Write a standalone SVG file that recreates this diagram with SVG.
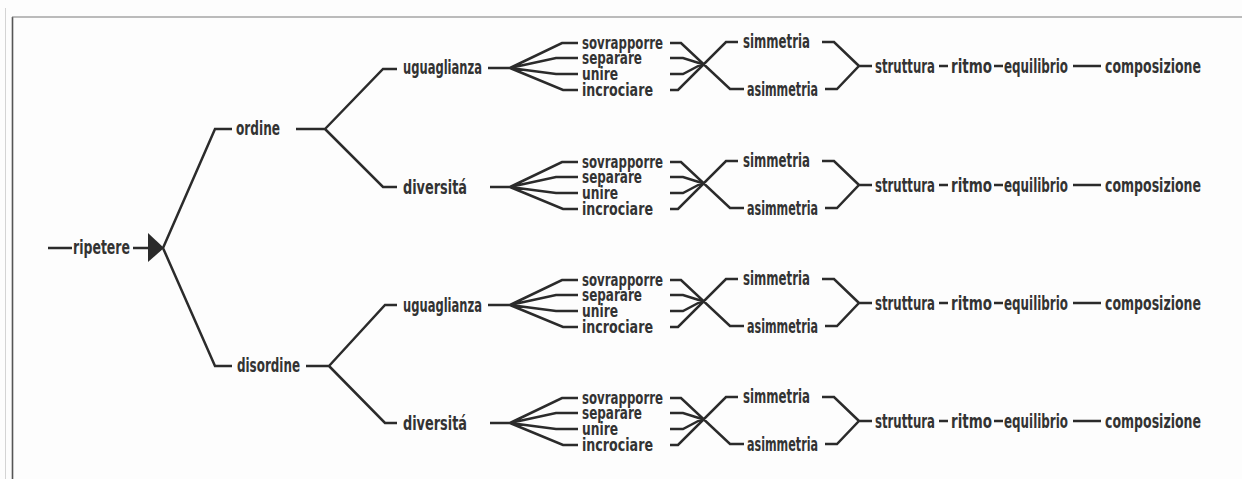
<svg xmlns="http://www.w3.org/2000/svg" width="1242" height="479" viewBox="0 0 1242 479">
<style>
.t{font-family:"Liberation Sans Narrow","DejaVu Sans Condensed","Liberation Sans",sans-serif;font-weight:bold;font-size:20px;fill:#333}
.s{font-size:17.5px}
.c{stroke:#2b2b2b;stroke-width:2.5;fill:none;stroke-linejoin:miter;stroke-linecap:butt}
.f{stroke:#555;fill:none}
</style>
<rect width="1242" height="479" fill="#fdfdfd"/>
<g id="frame">
<line class="f" x1="5.5" y1="8" x2="5.5" y2="479" stroke-width="1" style="stroke:#d4d4d4"/>
<line class="f" x1="12.5" y1="17" x2="12.5" y2="479" stroke-width="1.6"/>
<line class="f" x1="12" y1="17" x2="1242" y2="17" stroke-width="1.2" style="stroke:#7a7a7a"/>
</g>
<g id="connectors">
<path class="c" d="M48,248H72 M133,248H150 M163,248L215,129H232 M163,248L215,366H232 M296,129H325 M325,129L383,69H397 M325,129L383,187H397 M306,366H329 M329,366L385,305H397 M329,366L385,423H397"/>
<polygon points="148,233 148,262 164,248" fill="#2b2b2b"/>
<path class="c" d="M488,68H510 M510,68L562,43H578 M510,68L556,58H578 M510,68L556,74H578 M510,68L563,90H578 M670,43H681L730,89H744 M670,90H678L726,42H738 M670,58H683L702,64 M670,74H683L702,64 M822,42H834L859,66 M825,89H837L859,66H872 M939,66H948 M994,66H1003 M1073,66H1101"/>
<path class="c" d="M490,187H510 M510,187L562,162H578 M510,187L556,177H578 M510,187L556,193H578 M510,187L563,209H578 M670,162H681L730,208H744 M670,209H678L726,161H738 M670,177H683L702,183 M670,193H683L702,183 M822,161H834L859,185 M825,208H837L859,185H872 M939,185H948 M994,185H1003 M1073,185H1101"/>
<path class="c" d="M488,305H510 M510,305L562,280H578 M510,305L556,295H578 M510,305L556,311H578 M510,305L563,327H578 M670,280H681L730,326H744 M670,327H678L726,279H738 M670,295H683L702,301 M670,311H683L702,301 M822,279H834L859,303 M825,326H837L859,303H872 M939,303H948 M994,303H1003 M1073,303H1101"/>
<path class="c" d="M490,423H510 M510,423L562,398H578 M510,423L556,413H578 M510,423L556,429H578 M510,423L563,445H578 M670,398H681L730,444H744 M670,445H678L726,397H738 M670,413H683L702,419 M670,429H683L702,419 M822,397H834L859,421 M825,444H837L859,421H872 M939,421H948 M994,421H1003 M1073,421H1101"/>
</g>
<g id="n-ripetere"><text class="t" transform="translate(73,254) scale(.68,1)" textLength="83.8" lengthAdjust="spacingAndGlyphs">ripetere</text></g>
<g id="n-ordine"><text class="t" transform="translate(236,135) scale(.68,1)" textLength="64.7" lengthAdjust="spacingAndGlyphs">ordine</text></g>
<g id="n-disordine"><text class="t" transform="translate(237,372) scale(.68,1)" textLength="92.6" lengthAdjust="spacingAndGlyphs">disordine</text></g>

<g id="b1-uguaglianza"><text class="t" transform="translate(403,74) scale(.68,1)" textLength="116.2" lengthAdjust="spacingAndGlyphs">uguaglianza</text></g>
<g id="b1-sovrapporre"><text class="t s" transform="translate(582,49) scale(.68,1)" textLength="119.1" lengthAdjust="spacingAndGlyphs">sovrapporre</text></g>
<g id="b1-separare"><text class="t s" transform="translate(582,64) scale(.68,1)" textLength="88.2" lengthAdjust="spacingAndGlyphs">separare</text></g>
<g id="b1-unire"><text class="t s" transform="translate(582,80) scale(.68,1)" textLength="52.9" lengthAdjust="spacingAndGlyphs">unire</text></g>
<g id="b1-incrociare"><text class="t s" transform="translate(582,96) scale(.68,1)" textLength="104.4" lengthAdjust="spacingAndGlyphs">incrociare</text></g>
<g id="b1-simmetria"><text class="t" transform="translate(743,48) scale(.68,1)" textLength="98.5" lengthAdjust="spacingAndGlyphs">simmetria</text></g>
<g id="b1-asimmetria"><text class="t" transform="translate(747,96) scale(.68,1)" textLength="104.4" lengthAdjust="spacingAndGlyphs">asimmetria</text></g>
<g id="b1-struttura"><text class="t" transform="translate(875,73) scale(.68,1)" textLength="88.2" lengthAdjust="spacingAndGlyphs">struttura</text></g>
<g id="b1-ritmo"><text class="t" transform="translate(951,73) scale(.68,1)" textLength="60.3" lengthAdjust="spacingAndGlyphs">ritmo</text></g>
<g id="b1-equilibrio"><text class="t" transform="translate(1004,73) scale(.68,1)" textLength="94.1" lengthAdjust="spacingAndGlyphs">equilibrio</text></g>
<g id="b1-composizione"><text class="t" transform="translate(1105,73) scale(.68,1)" textLength="141.2" lengthAdjust="spacingAndGlyphs">composizione</text></g>

<g id="b2-diversita"><text class="t" transform="translate(403,194) scale(.68,1)" textLength="94.1" lengthAdjust="spacingAndGlyphs">diversitá</text></g>
<g id="b2-sovrapporre"><text class="t s" transform="translate(582,168) scale(.68,1)" textLength="119.1" lengthAdjust="spacingAndGlyphs">sovrapporre</text></g>
<g id="b2-separare"><text class="t s" transform="translate(582,183) scale(.68,1)" textLength="88.2" lengthAdjust="spacingAndGlyphs">separare</text></g>
<g id="b2-unire"><text class="t s" transform="translate(582,199) scale(.68,1)" textLength="52.9" lengthAdjust="spacingAndGlyphs">unire</text></g>
<g id="b2-incrociare"><text class="t s" transform="translate(582,215) scale(.68,1)" textLength="104.4" lengthAdjust="spacingAndGlyphs">incrociare</text></g>
<g id="b2-simmetria"><text class="t" transform="translate(743,167) scale(.68,1)" textLength="98.5" lengthAdjust="spacingAndGlyphs">simmetria</text></g>
<g id="b2-asimmetria"><text class="t" transform="translate(747,215) scale(.68,1)" textLength="104.4" lengthAdjust="spacingAndGlyphs">asimmetria</text></g>
<g id="b2-struttura"><text class="t" transform="translate(875,192) scale(.68,1)" textLength="88.2" lengthAdjust="spacingAndGlyphs">struttura</text></g>
<g id="b2-ritmo"><text class="t" transform="translate(951,192) scale(.68,1)" textLength="60.3" lengthAdjust="spacingAndGlyphs">ritmo</text></g>
<g id="b2-equilibrio"><text class="t" transform="translate(1004,192) scale(.68,1)" textLength="94.1" lengthAdjust="spacingAndGlyphs">equilibrio</text></g>
<g id="b2-composizione"><text class="t" transform="translate(1105,192) scale(.68,1)" textLength="141.2" lengthAdjust="spacingAndGlyphs">composizione</text></g>

<g id="b3-uguaglianza"><text class="t" transform="translate(403,312) scale(.68,1)" textLength="116.2" lengthAdjust="spacingAndGlyphs">uguaglianza</text></g>
<g id="b3-sovrapporre"><text class="t s" transform="translate(582,286) scale(.68,1)" textLength="119.1" lengthAdjust="spacingAndGlyphs">sovrapporre</text></g>
<g id="b3-separare"><text class="t s" transform="translate(582,301) scale(.68,1)" textLength="88.2" lengthAdjust="spacingAndGlyphs">separare</text></g>
<g id="b3-unire"><text class="t s" transform="translate(582,317) scale(.68,1)" textLength="52.9" lengthAdjust="spacingAndGlyphs">unire</text></g>
<g id="b3-incrociare"><text class="t s" transform="translate(582,333) scale(.68,1)" textLength="104.4" lengthAdjust="spacingAndGlyphs">incrociare</text></g>
<g id="b3-simmetria"><text class="t" transform="translate(743,285) scale(.68,1)" textLength="98.5" lengthAdjust="spacingAndGlyphs">simmetria</text></g>
<g id="b3-asimmetria"><text class="t" transform="translate(747,333) scale(.68,1)" textLength="104.4" lengthAdjust="spacingAndGlyphs">asimmetria</text></g>
<g id="b3-struttura"><text class="t" transform="translate(875,310) scale(.68,1)" textLength="88.2" lengthAdjust="spacingAndGlyphs">struttura</text></g>
<g id="b3-ritmo"><text class="t" transform="translate(951,310) scale(.68,1)" textLength="60.3" lengthAdjust="spacingAndGlyphs">ritmo</text></g>
<g id="b3-equilibrio"><text class="t" transform="translate(1004,310) scale(.68,1)" textLength="94.1" lengthAdjust="spacingAndGlyphs">equilibrio</text></g>
<g id="b3-composizione"><text class="t" transform="translate(1105,310) scale(.68,1)" textLength="141.2" lengthAdjust="spacingAndGlyphs">composizione</text></g>

<g id="b4-diversita"><text class="t" transform="translate(403,430) scale(.68,1)" textLength="94.1" lengthAdjust="spacingAndGlyphs">diversitá</text></g>
<g id="b4-sovrapporre"><text class="t s" transform="translate(582,404) scale(.68,1)" textLength="119.1" lengthAdjust="spacingAndGlyphs">sovrapporre</text></g>
<g id="b4-separare"><text class="t s" transform="translate(582,419) scale(.68,1)" textLength="88.2" lengthAdjust="spacingAndGlyphs">separare</text></g>
<g id="b4-unire"><text class="t s" transform="translate(582,435) scale(.68,1)" textLength="52.9" lengthAdjust="spacingAndGlyphs">unire</text></g>
<g id="b4-incrociare"><text class="t s" transform="translate(582,451) scale(.68,1)" textLength="104.4" lengthAdjust="spacingAndGlyphs">incrociare</text></g>
<g id="b4-simmetria"><text class="t" transform="translate(743,403) scale(.68,1)" textLength="98.5" lengthAdjust="spacingAndGlyphs">simmetria</text></g>
<g id="b4-asimmetria"><text class="t" transform="translate(747,451) scale(.68,1)" textLength="104.4" lengthAdjust="spacingAndGlyphs">asimmetria</text></g>
<g id="b4-struttura"><text class="t" transform="translate(875,428) scale(.68,1)" textLength="88.2" lengthAdjust="spacingAndGlyphs">struttura</text></g>
<g id="b4-ritmo"><text class="t" transform="translate(951,428) scale(.68,1)" textLength="60.3" lengthAdjust="spacingAndGlyphs">ritmo</text></g>
<g id="b4-equilibrio"><text class="t" transform="translate(1004,428) scale(.68,1)" textLength="94.1" lengthAdjust="spacingAndGlyphs">equilibrio</text></g>
<g id="b4-composizione"><text class="t" transform="translate(1105,428) scale(.68,1)" textLength="141.2" lengthAdjust="spacingAndGlyphs">composizione</text></g>
</svg>
